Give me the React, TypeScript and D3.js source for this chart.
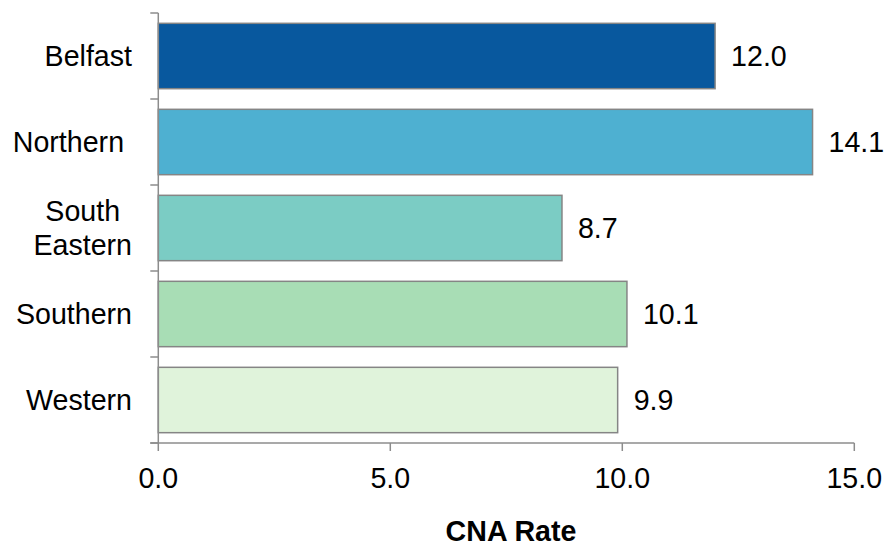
import React from "react";
import * as d3 from "d3";

const regions: string[][] = [["Belfast"], ["Northern "], ["South", "Eastern"], ["Southern"], ["Western"]];
const regionKeys = ["Belfast", "Northern", "South Eastern", "Southern", "Western"];
const rates = [12.0, 14.1, 8.7, 10.1, 9.9];
const barColors = ["#08589e", "#4eb0d1", "#7bccc4", "#a8ddb5", "#e0f3db"];
const xTicks = [0, 5, 10, 15];
const axisTitle = "CNA Rate";

const W = 886;
const H = 546;
const FONT = "'Liberation Sans', Arial, Helvetica, sans-serif";
const FS = 28.6;

export default function App() {
  const x = d3.scaleLinear().domain([0, 15]).range([158.3, 854.3]);
  const y = d3
    .scaleBand<string>()
    .domain(regionKeys)
    .range([13, 443])
    .paddingInner(0.24)
    .paddingOuter(0.12);

  const step = y.step();
  const bandStart = (i: number) => 13 + i * step;
  const labelRight = 132;
  const lineGap = 34;
  const axisColor = "#8c8c8c";

  // width of a line of text, for centring multi-line category labels
  const measure = (() => {
    const c = typeof document !== "undefined" ? document.createElement("canvas").getContext("2d") : null;
    return (t: string) => {
      if (!c) return t.length * FS * 0.55;
      c.font = `${FS}px ${FONT}`;
      return c.measureText(t).width;
    };
  })();

  return (
    <svg
      width={W}
      height={H}
      style={{ position: "absolute", left: 0, top: 0, background: "#fff" }}
      fontFamily={FONT}
    >
      {/* bars */}
      {regionKeys.map((k, i) => (
        <rect
          key={k}
          x={x(0)}
          y={y(k)!}
          width={x(rates[i]) - x(0)}
          height={y.bandwidth()}
          fill={barColors[i]}
          stroke="#858585"
          strokeWidth={1.5}
        />
      ))}

      {/* value labels */}
      {regionKeys.map((k, i) => (
        <text
          key={k}
          x={x(rates[i]) + 16}
          y={y(k)! + y.bandwidth() / 2}
          dy="0.36em"
          fontSize={FS}
          fill="#000"
        >
          {d3.format(".1f")(rates[i])}
        </text>
      ))}

      {/* y axis */}
      <line x1={x(0)} x2={x(0)} y1={13} y2={443} stroke={axisColor} strokeWidth={1.5} />
      {d3.range(regionKeys.length + 1).map((i) => (
        <line
          key={i}
          x1={x(0) - 8}
          x2={x(0)}
          y1={bandStart(i)}
          y2={bandStart(i)}
          stroke={axisColor}
          strokeWidth={1.5}
        />
      ))}

      {/* category labels */}
      {regions.map((lines, i) => {
        const cy = bandStart(i) + step / 2;
        const maxW = Math.max(...lines.map(measure));
        const cx = labelRight - maxW / 2;
        const first = cy - ((lines.length - 1) * lineGap) / 2;
        return (
          <text key={i} fontSize={FS} fill="#000" style={{ whiteSpace: "pre" }}>
            {lines.map((ln, j) =>
              lines.length > 1 ? (
                <tspan key={j} x={cx} y={first + j * lineGap} dy="0.36em" textAnchor="middle">
                  {ln}
                </tspan>
              ) : (
                <tspan key={j} x={labelRight} y={first} dy="0.36em" textAnchor="end">
                  {ln}
                </tspan>
              )
            )}
          </text>
        );
      })}

      {/* x axis */}
      <line x1={x(0) - 8} x2={x(15)} y1={443} y2={443} stroke={axisColor} strokeWidth={1.5} />
      {xTicks.map((t) => (
        <g key={t}>
          <line x1={x(t)} x2={x(t)} y1={443} y2={451} stroke={axisColor} strokeWidth={1.5} />
          <text x={x(t)} y={488} textAnchor="middle" fontSize={FS} fill="#000">
            {d3.format(".1f")(t)}
          </text>
        </g>
      ))}

      <text x={511} y={541} textAnchor="middle" fontSize={FS} fontWeight="bold" fill="#000">
        {axisTitle}
      </text>
    </svg>
  );
}
